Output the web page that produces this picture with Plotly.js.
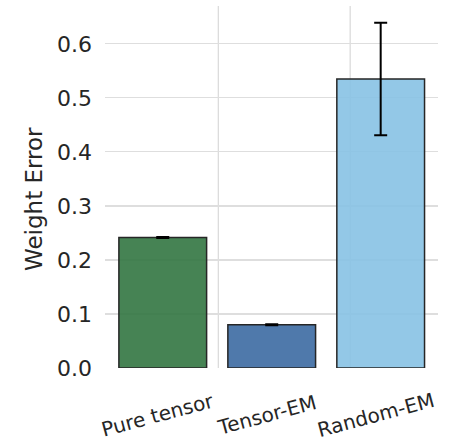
<!DOCTYPE html>
<html>
<head>
<meta charset="utf-8">
<script src="https://cdn.plot.ly/plotly-3.0.1.min.js"></script>
<style>html,body{margin:0;padding:0;background:#fff}#chart{width:460px;height:444px}</style>
</head>
<body>
<div id="chart"></div>
<script>
const categories = ["Pure tensor", "Tensor-EM", "Random-EM"];
const weightError = [0.2415, 0.080, 0.535];
const errorSize = [0.0008, 0.0008, 0.104];
const barColors = ["rgba(50,117,65,0.9)", "rgba(60,106,162,0.9)", "rgba(135,194,228,0.9)"];
const yTicks = [0.0, 0.1, 0.2, 0.3, 0.4, 0.5, 0.6];
const yTickText = ["0.0", "0.1", "0.2", "0.3", "0.4", "0.5", "0.6"];
const yTitle = "Weight Error";
const vGrid = [0.51, 1.72];

const textColor = "#262626";
const font = "DejaVu Sans, sans-serif";

const trace = {
  type: "bar",
  x: categories.map((c, i) => i),
  y: weightError,
  width: 0.805,
  marker: { color: barColors, line: { color: "#262626", width: 1.5 } },
  error_y: { type: "data", array: errorSize, visible: true, color: "#000", thickness: 2, width: 6.5 },
  hoverinfo: "skip"
};

const shapes = vGrid.map(v => ({
  type: "line", xref: "x", yref: "paper", x0: v, x1: v, y0: 0, y1: 1,
  line: { color: "#d9d9d9", width: 1.2 }, layer: "below"
}));

const annotations = categories.map((c, i) => ({
  text: c, x: i, xref: "x", y: -0.13, yref: "paper",
  xanchor: "center", yanchor: "middle", xshift: -5,
  textangle: -15, showarrow: false,
  font: { family: font, size: 20, color: textColor }
}));
annotations.push({
  text: yTitle, xref: "paper", x: 0, xshift: -71, yref: "paper", y: 0.467,
  xanchor: "center", yanchor: "middle", textangle: -90, showarrow: false,
  font: { family: font, size: 23, color: textColor }
});

const layout = {
  width: 460, height: 444,
  margin: { l: 105, r: 22, t: 6, b: 76 },
  paper_bgcolor: "#fff", plot_bgcolor: "#fff",
  showlegend: false,
  xaxis: {
    range: [-0.53, 2.526], showticklabels: false, showgrid: false,
    zeroline: false, showline: false, ticks: "", fixedrange: true
  },
  yaxis: {
    range: [0, 0.67], tickvals: yTicks, ticktext: yTickText,
    showgrid: true, gridcolor: "#dedede", gridwidth: 1.2,
    zeroline: false, showline: false, ticks: "",
    ticklabelstandoff: 12,
    tickfont: { family: font, size: 22, color: textColor }
  },
  shapes: shapes,
  annotations: annotations
};

Plotly.newPlot("chart", [trace], layout, { displayModeBar: false, staticPlot: true });
</script>
</body>
</html>
